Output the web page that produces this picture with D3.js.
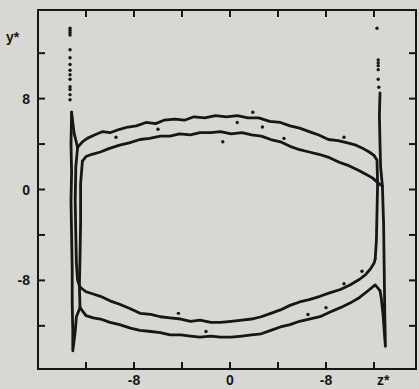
<!DOCTYPE html>
<html>
<head>
<meta charset="utf-8">
<script src="https://cdn.jsdelivr.net/npm/d3@7"></script>
<style>
  html, body { margin: 0; padding: 0; background: #d7d7d4; }
  svg { display: block; }
</style>
</head>
<body>
<svg id="chart" width="419" height="389"></svg>
<script>
// tick values / labels (right-hand x label is printed "-8")
const xTicks = [-12, -8, -4, 0, 4, 8, 12];
const yTicks = [-12, -8, -4, 0, 4, 8, 12];
const xLabels = [[-8, "-8"], [0, "0"], [8, "-8"]];
const yLabels = [[8, "8"], [0, "0"], [-8, "-8"]];

// upper pair of branches (z*, y*)
const curveA = [[-12.7,3.7],[-12.3,4.2],[-11.9,4.5],[-11.3,4.8],[-10.6,5.1],[-10.0,5.0],[-9.2,5.3],[-8.5,5.5],[-7.8,5.6],[-7.0,5.9],[-6.2,5.8],[-5.5,6.1],[-4.6,6.2],[-3.8,6.1],[-3.0,6.4],[-2.1,6.3],[-1.2,6.5],[-0.3,6.4],[0.6,6.5],[1.5,6.3],[2.4,6.3],[3.3,6.0],[4.2,5.9],[5.0,5.6],[5.8,5.4],[6.6,5.1],[7.4,4.8],[8.2,4.4],[9.0,4.3],[9.8,4.1],[10.5,3.9],[11.1,3.6],[11.6,3.3],[12.0,3.0]];
const curveB = [[-12.3,2.5],[-12.0,2.9],[-11.5,3.1],[-10.8,3.3],[-10.1,3.6],[-9.2,3.9],[-8.4,4.1],[-7.5,4.4],[-6.7,4.5],[-5.8,4.7],[-5.0,4.7],[-4.2,4.9],[-3.3,4.8],[-2.5,5.0],[-1.6,5.0],[-0.8,5.1],[0.1,4.9],[1.0,5.0],[1.8,4.8],[2.6,4.7],[3.4,4.4],[4.2,4.2],[5.0,3.8],[5.8,3.5],[6.6,3.3],[7.4,3.1],[8.3,2.8],[9.1,2.4],[9.9,2.1],[10.7,1.7],[11.4,1.3],[11.9,1.0],[12.3,0.6]];
// lower pair
const curveC = [[-12.5,-8.6],[-12.0,-9.0],[-11.4,-9.2],[-10.8,-9.4],[-10.0,-9.8],[-9.2,-10.1],[-8.3,-10.5],[-7.5,-10.9],[-6.6,-11.0],[-5.8,-11.2],[-5.0,-11.3],[-4.1,-11.4],[-3.3,-11.6],[-2.5,-11.5],[-1.6,-11.7],[-0.8,-11.7],[0.1,-11.6],[1.0,-11.5],[1.8,-11.4],[2.6,-11.2],[3.4,-10.9],[4.2,-10.6],[5.0,-10.2],[5.8,-9.9],[6.6,-9.7],[7.5,-9.4],[8.3,-9.1],[9.2,-8.8],[10.0,-8.4],[10.8,-7.9],[11.3,-7.5],[11.7,-7.0],[12.0,-6.5],[12.1,-6.1]];
const curveD = [[-12.5,-10.4],[-12.0,-11.1],[-11.4,-11.3],[-10.8,-11.4],[-10.0,-11.7],[-9.2,-11.9],[-8.3,-12.2],[-7.5,-12.4],[-6.6,-12.5],[-5.8,-12.6],[-5.0,-12.8],[-4.1,-12.8],[-3.3,-12.9],[-2.5,-13.0],[-1.6,-12.9],[-0.8,-13.0],[0.1,-13.0],[1.0,-12.9],[1.8,-12.8],[2.6,-12.7],[3.4,-12.4],[4.2,-12.1],[5.0,-11.9],[5.8,-11.6],[6.6,-11.4],[7.5,-11.2],[8.3,-10.8],[9.2,-10.4],[10.0,-10.0],[10.8,-9.5],[11.4,-9.0],[12.1,-8.4],[12.5,-8.9]];

// end walls
const leftSpike = [[-13.2,6.8],[-13.25,4.0],[-13.2,1.5],[-13.25,-1.0],[-13.2,-4.0],[-13.15,-7.0],[-13.15,-10.0],[-13.1,-12.5],[-13.1,-14.2],[-12.9,-12.5],[-12.8,-11.2],[-12.5,-10.4]];
const leftTop = [[-13.2,6.8],[-13.0,5.0],[-12.7,3.7]];
const leftWallA = [[-12.7,3.7],[-12.85,2.0],[-12.9,-1.0],[-12.85,-4.0],[-12.8,-6.5],[-12.7,-8.0],[-12.5,-8.6]];
const leftWallB = [[-12.3,2.5],[-12.45,0.5],[-12.45,-3.0],[-12.5,-6.0],[-12.55,-8.5],[-12.5,-10.4]];
const rightTop = [[12.5,8.5],[12.45,6.5],[12.5,4.0],[12.55,2.0],[12.7,0.3]];
const rightWallA = [[12.0,3.0],[12.25,2.6],[12.3,0.5],[12.25,-2.0],[12.2,-4.5],[12.1,-6.1]];
const rightWallB = [[12.3,0.6],[12.7,0.3],[12.8,-3.0],[12.85,-7.0],[12.9,-11.0],[12.95,-13.8],[12.75,-11.0],[12.6,-9.5],[12.5,-8.9]];

// scattered points above the walls and beside the branches
const leftDots = [[-13.33,14.2],[-13.33,14.0],[-13.33,13.8],[-13.33,13.6],[-13.33,12.3],[-13.33,11.6],[-13.33,11.0],[-13.33,10.5],[-13.33,10.1],[-13.33,9.7],[-13.33,9.05],[-13.33,8.8],[-13.33,8.35],[-13.33,7.9]];
const rightDots = [[12.25,14.2],[12.35,11.4],[12.35,11.15],[12.35,10.9],[12.35,10.55],[12.35,9.7],[12.4,9.0]];
const strayDots = [[1.9,6.8],[0.6,5.9],[-0.6,4.2],[2.7,5.5],[-6.0,5.3],[4.5,4.5],[9.5,4.6],[-4.3,-10.9],[9.5,-8.3],[11.0,-7.2],[-2.0,-12.5],[8.0,-10.4],[-9.5,4.6],[6.5,-11.0]];

const W = 419, H = 389;
const margin = { left: 38, right: 3, top: 10, bottom: 20 };
const svg = d3.select("#chart");

const xS = d3.scaleLinear([-16, 15.5], [margin.left, W - margin.right]);
const yS = d3.scaleLinear([-15.8, 15.8], [H - margin.bottom, margin.top]);

const font = "'Liberation Sans', Arial, sans-serif";
const ink = "#161616";
const tickLen = 7;

// frame
svg.append("rect")
  .attr("x", xS(-16)).attr("y", yS(15.8))
  .attr("width", xS(15.5) - xS(-16)).attr("height", yS(-15.8) - yS(15.8))
  .attr("fill", "none").attr("stroke", ink).attr("stroke-width", 2);

// inward ticks on all four sides
for (const t of xTicks) {
  svg.append("line").attr("x1", xS(t)).attr("x2", xS(t))
    .attr("y1", yS(-15.8)).attr("y2", yS(-15.8) - tickLen)
    .attr("stroke", ink).attr("stroke-width", 2);
  svg.append("line").attr("x1", xS(t)).attr("x2", xS(t))
    .attr("y1", yS(15.8)).attr("y2", yS(15.8) + tickLen)
    .attr("stroke", ink).attr("stroke-width", 2);
}
for (const t of yTicks) {
  svg.append("line").attr("x1", xS(-16)).attr("x2", xS(-16) + tickLen)
    .attr("y1", yS(t)).attr("y2", yS(t))
    .attr("stroke", ink).attr("stroke-width", 2);
  svg.append("line").attr("x1", xS(15.5)).attr("x2", xS(15.5) - tickLen)
    .attr("y1", yS(t)).attr("y2", yS(t))
    .attr("stroke", ink).attr("stroke-width", 2);
}

// tick labels
for (const [v, s] of xLabels) {
  svg.append("text").attr("x", xS(v)).attr("y", H - 4)
    .attr("text-anchor", "middle").attr("font-family", font).attr("font-size", 14)
    .attr("font-weight", 700).attr("fill", ink).text(s);
}
for (const [v, s] of yLabels) {
  svg.append("text").attr("x", xS(-16) - 8).attr("y", yS(v) + 5)
    .attr("text-anchor", "end").attr("font-family", font).attr("font-size", 14)
    .attr("font-weight", 700).attr("fill", ink).text(s);
}

// axis names
svg.append("text").attr("x", 6).attr("y", 42)
  .attr("font-family", font).attr("font-size", 14).attr("font-weight", 700)
  .attr("fill", ink).text("y*");
svg.append("text").attr("x", xS(12) + 3).attr("y", H - 4)
  .attr("font-family", font).attr("font-size", 14).attr("font-weight", 700)
  .attr("fill", ink).text("z*");

// curves
const line = d3.line().x(d => xS(d[0])).y(d => yS(d[1]));
const paths = [curveA, curveB, curveC, curveD, leftSpike, leftTop, leftWallA, leftWallB, rightTop, rightWallA, rightWallB];
for (const p of paths) {
  svg.append("path").datum(p).attr("d", line)
    .attr("fill", "none").attr("stroke", ink).attr("stroke-width", 2.8)
    .attr("stroke-linejoin", "round").attr("stroke-linecap", "round");
}

// scattered points
for (const d of leftDots.concat(rightDots, strayDots)) {
  svg.append("circle").attr("cx", xS(d[0])).attr("cy", yS(d[1]))
    .attr("r", 1.7).attr("fill", ink);
}
</script>
</body>
</html>
